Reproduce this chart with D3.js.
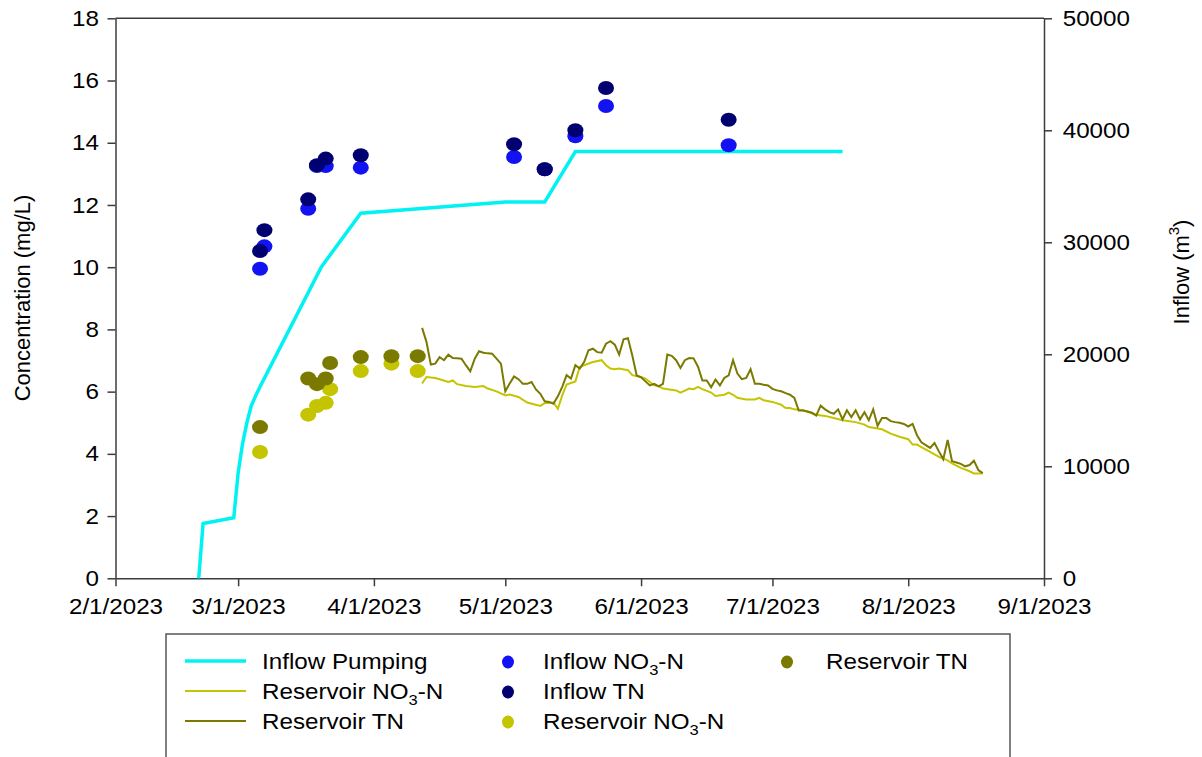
<!DOCTYPE html>
<html>
<head>
<meta charset="utf-8">
<script src="https://cdn.jsdelivr.net/npm/d3@7"></script>
<style>
  body { margin: 0; background: #fff; }
  svg { font-family: "Liberation Sans", Arial, sans-serif; }
  .axis path, .axis line { stroke: #3c3c3c; stroke-width: 1.5; }
  .axis text { font-size: 22px; fill: #000; font-family: "Liberation Sans", Arial, sans-serif; }
</style>
</head>
<body>
<svg id="chart" width="1202" height="757"></svg>
<script>
// axis ticks
var dateTicks = ["2/1/2023", "3/1/2023", "4/1/2023", "5/1/2023", "6/1/2023", "7/1/2023", "8/1/2023", "9/1/2023"];
var concTicks = [0, 2, 4, 6, 8, 10, 12, 14, 16, 18];
var flowTicks = [0, 10000, 20000, 30000, 40000, 50000];

// inflow pumping (right axis, m3)
var pumpDates = ["2/20/2023", "2/21/2023", "2/28/2023", "3/1/2023", "3/2/2023", "3/3/2023", "3/4/2023", "3/5/2023",
                 "3/6/2023", "3/20/2023", "3/29/2023", "5/1/2023", "5/10/2023", "5/17/2023", "7/17/2023"];
var pumpVolume = [0, 4900, 5400, 9400, 12000, 13900, 15400, 16300, 17100, 27800, 32600, 33600, 33600, 38100, 38100];

// reservoir TN, daily from 4/12/2023
var resTNStart = "4/12/2023";
var resTNLine = [8.05, 7.60, 6.87, 6.90, 7.11, 7.01, 7.19, 7.08, 7.07, 7.06,
                 6.85, 6.65, 7.05, 7.30, 7.25, 7.23, 7.22, 7.06, 6.90, 6.01,
                 6.26, 6.49, 6.40, 6.25, 6.25, 6.31, 6.07, 5.93, 5.69, 5.67,
                 5.61, 5.85, 6.15, 6.53, 6.42, 6.85, 6.74, 6.95, 7.33, 7.38,
                 7.27, 7.25, 7.54, 7.62, 7.51, 7.19, 7.68, 7.72, 7.16, 6.52,
                 6.46, 6.33, 6.20, 6.25, 6.17, 6.25, 7.19, 7.15, 7.01, 6.76,
                 7.01, 7.08, 7.07, 6.80, 6.36, 6.36, 6.14, 6.39, 6.20, 6.44,
                 6.52, 7.01, 6.58, 6.40, 6.44, 6.72, 6.25, 6.25, 6.22, 6.20,
                 6.09, 6.04, 6.01, 5.95, 5.90, 5.80, 5.39, 5.39, 5.36, 5.32,
                 5.23, 5.55, 5.43, 5.34, 5.29, 5.43, 5.11, 5.40, 5.18, 5.40,
                 5.11, 5.34, 5.08, 5.43, 4.90, 5.15, 5.15, 5.05, 5.02, 5.00,
                 4.96, 4.88, 4.96, 4.60, 4.37, 4.28, 4.19, 4.35, 4.08, 3.83,
                 4.45, 3.76, 3.72, 3.68, 3.60, 3.64, 3.78, 3.48, 3.38];

// reservoir NO3-N line
var resNO3Dates = ["4/12", "4/13", "4/15", "4/16", "4/18", "4/19", "4/20", "4/22", "4/24", "4/26",
                   "4/27", "4/29", "5/1", "5/2", "5/4", "5/6", "5/9", "5/10", "5/12", "5/13",
                   "5/14", "5/15", "5/17", "5/18", "5/19", "5/21", "5/23", "5/24", "5/25", "5/26",
                   "5/27", "5/29", "5/30", "6/1", "6/2", "6/3", "6/4", "6/5", "6/6", "6/9",
                   "6/10", "6/12", "6/13", "6/14", "6/15", "6/17", "6/18", "6/20", "6/21", "6/22",
                   "6/23", "6/25", "6/27", "6/28", "6/29", "7/1", "7/3", "7/4", "7/5", "7/6",
                   "7/8", "7/11", "7/13", "7/15", "7/17", "7/20", "7/22", "7/23", "7/26", "7/28",
                   "7/30", "8/1", "8/2", "8/3", "8/4", "8/6", "8/8", "8/10", "8/11", "8/13",
                   "8/15", "8/16", "8/18"];
var resNO3Line = [6.26, 6.47, 6.44, 6.40, 6.31, 6.36, 6.24, 6.18, 6.15, 6.18,
                  6.10, 6.01, 5.88, 5.91, 5.83, 5.65, 5.54, 5.63, 5.65, 5.45,
                  5.88, 6.23, 6.33, 6.79, 6.85, 6.95, 7.01, 6.85, 6.74, 6.72,
                  6.74, 6.69, 6.53, 6.47, 6.42, 6.31, 6.20, 6.18, 6.10, 6.04,
                  5.97, 6.10, 6.08, 6.15, 6.08, 5.97, 5.86, 5.90, 5.97, 5.90,
                  5.80, 5.75, 5.75, 5.80, 5.72, 5.67, 5.58, 5.47, 5.47, 5.43,
                  5.40, 5.26, 5.22, 5.15, 5.08, 5.02, 4.94, 4.86, 4.79, 4.65,
                  4.55, 4.47, 4.30, 4.30, 4.22, 4.06, 3.90, 3.79, 3.69, 3.55,
                  3.44, 3.37, 3.37];

// grab samples
var inflowSampleDates = ["3/6", "3/7", "3/17", "3/19", "3/21", "3/29", "5/3", "5/10", "5/17", "5/24", "6/21"];
var inflowNO3 = [9.95, 10.67, 11.88, 13.25, 13.25, 13.20, 13.54, 13.15, 14.21, 15.18, 13.92];
var inflowTN  = [10.52, 11.19, 12.18, 13.28, 13.49, 13.60, 13.95, 13.15, 14.40, 15.76, 14.74];

var resSampleDates = ["3/6", "3/17", "3/19", "3/21", "3/22", "3/29", "4/5", "4/11"];
var resNO3Pts = [4.06, 5.26, 5.54, 5.64, 6.08, 6.66, 6.90, 6.66];
var resTNPts  = [4.86, 6.42, 6.24, 6.42, 6.92, 7.11, 7.14, 7.14];

var colors = {
  pump: "#00f2f2",
  resNO3: "#c4c400",
  resTN: "#7a7a00",
  inNO3: "#1212f2",
  inTN: "#000070"
};

var parseDate = d3.timeParse("%m/%d/%Y");
var d23 = function(s) { return parseDate(s + "/2023"); };

var svg = d3.select("#chart");

var plotLeft = 115.5, plotRight = 1044, plotTop = 18.3, plotBottom = 578.3;

var x = d3.scaleTime()
    .domain([parseDate(dateTicks[0]), parseDate(dateTicks[dateTicks.length - 1])])
    .range([plotLeft, plotRight]);
var yConc = d3.scaleLinear().domain([0, 18]).range([plotBottom, plotTop]);
var yFlow = d3.scaleLinear().domain([0, 50000]).range([plotBottom, plotTop]);

// stretch text a bit horizontally like the original export
var stretch = "scale(1.1,1)";

// axes
svg.append("g")
   .attr("class", "axis")
   .attr("transform", "translate(0," + plotBottom + ")")
   .call(d3.axisBottom(x).tickValues(dateTicks.map(parseDate))
           .tickFormat(d3.timeFormat("%-m/%-d/%Y"))
           .tickSize(8).tickSizeOuter(0).tickPadding(12))
   .selectAll("text").attr("transform", stretch);

svg.append("g")
   .attr("class", "axis")
   .attr("transform", "translate(" + plotLeft + ",0)")
   .call(d3.axisLeft(yConc).tickValues(concTicks)
           .tickSize(8).tickSizeOuter(0).tickPadding(7))
   .selectAll("text").attr("transform", stretch);

svg.append("g")
   .attr("class", "axis")
   .attr("transform", "translate(" + plotRight + ",0)")
   .call(d3.axisRight(yFlow).tickValues(flowTicks).tickFormat(d3.format("d"))
           .tickSize(8).tickSizeOuter(0).tickPadding(9))
   .selectAll("text").attr("transform", stretch);

// top frame
svg.append("line")
   .attr("x1", plotLeft).attr("x2", plotRight)
   .attr("y1", plotTop).attr("y2", plotTop)
   .style("stroke", "#3c3c3c").style("stroke-width", 1.5);

// axis titles
svg.append("text")
   .attr("transform", "translate(22,298) rotate(-90)")
   .attr("text-anchor", "middle")
   .attr("dy", "0.35em")
   .style("font-size", "22px")
   .text("Concentration (mg/L)");

var flowTitle = svg.append("text")
   .attr("transform", "translate(1181,272) rotate(-90)")
   .attr("text-anchor", "middle")
   .attr("dy", "0.35em")
   .style("font-size", "22px");
flowTitle.append("tspan").text("Inflow (m");
flowTitle.append("tspan").attr("dy", -10).style("font-size", "15px").text("3");
flowTitle.append("tspan").attr("dy", 10).text(")");

// lines
var pumpData = pumpDates.map(function(d, i) { return {date: parseDate(d), v: pumpVolume[i]}; });
var tnStart = parseDate(resTNStart);
var tnData = resTNLine.map(function(v, i) { return {date: d3.timeDay.offset(tnStart, i), v: v}; });
var no3Data = resNO3Dates.map(function(d, i) { return {date: d23(d), v: resNO3Line[i]}; });

var flowLine = d3.line().x(function(d) { return x(d.date); }).y(function(d) { return yFlow(d.v); });
var concLine = d3.line().x(function(d) { return x(d.date); }).y(function(d) { return yConc(d.v); });

svg.append("path")
   .attr("d", flowLine(pumpData))
   .style("fill", "none").style("stroke", colors.pump).style("stroke-width", 3.5);

svg.append("path")
   .attr("d", concLine(no3Data))
   .style("fill", "none").style("stroke", colors.resNO3).style("stroke-width", 2);

svg.append("path")
   .attr("d", concLine(tnData))
   .style("fill", "none").style("stroke", colors.resTN).style("stroke-width", 2);

// sample points
function dots(dates, vals, color) {
  svg.append("g").selectAll("ellipse")
     .data(dates.map(function(d, i) { return {date: d23(d), v: vals[i]}; }))
     .enter().append("ellipse")
     .attr("cx", function(d) { return x(d.date); })
     .attr("cy", function(d) { return yConc(d.v); })
     .attr("rx", 8).attr("ry", 7)
     .style("fill", color);
}
dots(inflowSampleDates, inflowNO3, colors.inNO3);
dots(inflowSampleDates, inflowTN, colors.inTN);
dots(resSampleDates, resNO3Pts, colors.resNO3);
dots(resSampleDates, resTNPts, colors.resTN);

// legend
var legendItems = [
  {type: "line", color: colors.pump, width: 3.5, label: ["Inflow Pumping"], col: 0, row: 0},
  {type: "line", color: colors.resNO3, width: 2, label: ["Reservoir NO", "3", "-N"], col: 0, row: 1},
  {type: "line", color: colors.resTN, width: 2, label: ["Reservoir TN"], col: 0, row: 2},
  {type: "dot", color: colors.inNO3, label: ["Inflow NO", "3", "-N"], col: 1, row: 0},
  {type: "dot", color: colors.inTN, label: ["Inflow TN"], col: 1, row: 1},
  {type: "dot", color: colors.resNO3, label: ["Reservoir NO", "3", "-N"], col: 1, row: 2},
  {type: "dot", color: colors.resTN, label: ["Reservoir TN"], col: 2, row: 0}
];
var colSymbol = [215, 508, 787], colText = [262, 543, 826];
var rowY = [661, 691, 721];

var legend = svg.append("g");
legend.append("rect")
   .attr("x", 166).attr("y", 634).attr("width", 844).attr("height", 160)
   .style("fill", "#fff").style("stroke", "#555").style("stroke-width", 1.5);

legendItems.forEach(function(it) {
  var cy = rowY[it.row];
  if (it.type === "line") {
    legend.append("line")
       .attr("x1", colSymbol[it.col] - 30).attr("x2", colSymbol[it.col] + 31)
       .attr("y1", cy).attr("y2", cy)
       .style("stroke", it.color).style("stroke-width", it.width);
  } else {
    legend.append("ellipse")
       .attr("cx", colSymbol[it.col]).attr("cy", cy + 1)
       .attr("rx", 6).attr("ry", 6.5)
       .style("fill", it.color);
  }
  var t = legend.append("text")
     .attr("transform", "translate(" + colText[it.col] + "," + (cy + 8) + ") " + stretch)
     .style("font-size", "22px");
  t.append("tspan").text(it.label[0]);
  if (it.label.length > 1) {
    t.append("tspan").attr("dy", 6).style("font-size", "15px").text(it.label[1]);
    t.append("tspan").attr("dy", -6).text(it.label[2]);
  }
});
</script>
</body>
</html>
